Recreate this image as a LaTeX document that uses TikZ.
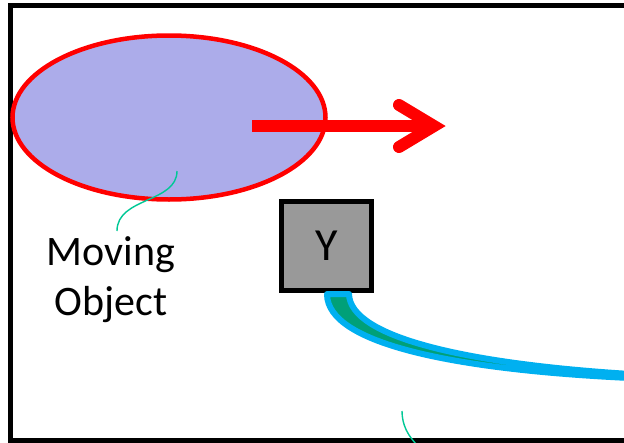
\documentclass[tikz,border=0pt]{standalone}
\usepackage{fontspec}
\setmainfont{Carlito}
\usetikzlibrary{shapes.geometric}
\definecolor{objfill}{RGB}{172,172,234}
\definecolor{cableblue}{RGB}{0,176,240}
\definecolor{cablegreen}{RGB}{0,160,120}
\definecolor{callout}{RGB}{0,200,150}
\definecolor{boxgrey}{RGB}{153,153,153}
\tikzset{
  frameline/.style={draw=black, line width=5.5pt},
  movingobj/.style={ellipse, draw=red, fill=objfill, line width=4.5pt, inner sep=0pt,
    minimum width=313pt, minimum height=164pt},
  ybox/.style={draw=black, fill=boxgrey, line width=5pt, inner sep=0pt,
    minimum width=90pt, minimum height=89pt, font=\fontsize{46}{52}\selectfont},
  motionarrow/.style={draw=red, line width=12pt},
  label/.style={align=center, font=\fontsize{42}{50}\selectfont, inner sep=0pt},
  calloutline/.style={draw=callout, line width=1.4pt},
  cable/.style={fill=cablegreen, draw=cableblue, line width=6pt, line join=round}
}
\begin{document}
\begin{tikzpicture}[x=1pt, y=-1pt]
\useasboundingbox (0,0) rectangle (624,442);
\clip (0,0) rectangle (624,442);
\fill[white] (0,0) rectangle (624,442);
% outer frame, running off to the right
\draw[frameline] (10.5,5.5) rectangle (700,440.5);
% moving object
\node[movingobj] (obj) at (169,117.5) {};
% motion arrow
\coordinate (shaftstart) at (252,126);
\coordinate (tip) at (434,126);
\draw[motionarrow, line cap=butt] (shaftstart) -- (tip);
\draw[motionarrow, line cap=round, line join=miter] (399,105) -- (tip) -- (399,147);
% sensor box
\node[ybox] (y) at (326.5,246) {Y};
% cable leaving the box
\coordinate (cableL) at (327,294);
\coordinate (cableR) at (349,294);
\coordinate (cableEnd) at (630,378);
\coordinate (cableEnd2) at (630,374);
\draw[cable] (cableL) .. controls (327,345) and (460,370) .. (cableEnd)
  -- (cableEnd2) .. controls (470,364) and (350,338) .. (cableR) -- cycle;
% label with callout
\node[label] (lbl) at (111,280) {Moving\\Object};
\coordinate (objpt) at (177,171);
\coordinate (lbltop) at (117,231);
\draw[calloutline] (objpt) .. controls (177,203) and (117,197) .. (lbltop);
% second callout running out of view
\coordinate (c2a) at (402,411);
\coordinate (c2b) at (418,446);
\draw[calloutline] (c2a) .. controls (402,425) and (408,436) .. (c2b);
\end{tikzpicture}
\end{document}
